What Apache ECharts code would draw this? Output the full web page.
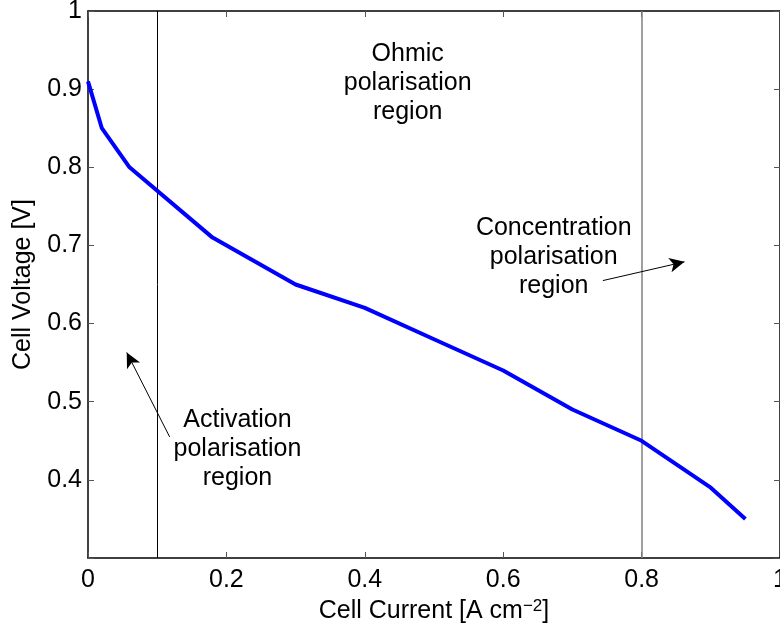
<!DOCTYPE html>
<html>
<head>
<meta charset="utf-8">
<title>Fuel cell polarisation curve</title>
<script src="https://cdn.jsdelivr.net/npm/echarts@6/dist/echarts.min.js"></script>
<style>
  html, body { margin: 0; padding: 0; background: #fff; }
  #chart { width: 780px; height: 630px; }
</style>
</head>
<body>
<div id="chart"></div>
<script>
// Polarisation curve: cell current density [A cm^-2] vs cell voltage [V]
const current = [0, 0.02, 0.06, 0.18, 0.3, 0.4, 0.5, 0.6, 0.7, 0.8, 0.9, 0.95];
const voltage = [0.91, 0.85, 0.80, 0.71, 0.65, 0.62, 0.58, 0.54, 0.49, 0.45, 0.39, 0.35];

// Boundaries between the activation / ohmic / concentration regions
const regionBounds = [0.105, 0.8];

// Region labels (data coordinates of the text centre)
const regionLabels = ['Ohmic\npolarisation\nregion', 'Concentration\npolarisation\nregion', 'Activation\npolarisation\nregion'];
const regionLabelAt = [[0.462, 0.908], [0.673, 0.685], [0.216, 0.439]];

// Arrows from label to region (tail, head) in data coordinates
const arrowTails = [[0.744, 0.655], [0.118, 0.455]];
const arrowHeads = [[0.862, 0.679], [0.056, 0.563]];

const FONT = "'Liberation Sans', Arial, Helvetica, sans-serif";
const FS = 25;

const axisLineStyle = { show: true, onZero: false, lineStyle: { color: '#000', width: 1.5 } };
const tickStyle = { show: true, inside: true, length: 6, lineStyle: { color: '#555', width: 1 } };

const chart = echarts.init(document.getElementById('chart'), null, { renderer: 'canvas' });

chart.setOption({
  animation: false,
  backgroundColor: '#fff',
  grid: { left: 88, right: 0, top: 11, bottom: 72, containLabel: false, outerBoundsMode: 'none' },
  xAxis: [
    {
      type: 'value', min: 0, max: 1, interval: 0.2, position: 'bottom',
      axisLine: axisLineStyle, axisTick: tickStyle, splitLine: { show: false },
      axisLabel: { fontSize: FS, color: '#000', fontFamily: FONT, margin: 10 },
      name: '{a|Cell Current [A cm}{s|−2}{a|]}',
      nameLocation: 'middle', nameGap: 37,
      nameTextStyle: {
        rich: {
          a: { fontSize: FS, color: '#000', fontFamily: FONT, lineHeight: 26 },
          s: { fontSize: 17, color: '#000', fontFamily: FONT, lineHeight: 17, verticalAlign: 'top' }
        }
      }
    },
    {
      type: 'value', min: 0, max: 1, interval: 0.2, position: 'top',
      axisLine: axisLineStyle, axisTick: tickStyle, splitLine: { show: false },
      axisLabel: { show: false }
    }
  ],
  yAxis: [
    {
      type: 'value', min: 0.3, max: 1, interval: 0.1, position: 'left',
      axisLine: axisLineStyle, axisTick: tickStyle, splitLine: { show: false },
      axisLabel: {
        fontSize: FS, color: '#000', fontFamily: FONT, margin: 6,
        formatter: v => (Math.abs(v - 0.3) < 1e-6 ? '' : String(+v.toFixed(1)))
      },
      name: 'Cell Voltage [V]', nameLocation: 'middle', nameGap: 52,
      nameTextStyle: { fontSize: FS, color: '#000', fontFamily: FONT }
    },
    {
      type: 'value', min: 0.3, max: 1, interval: 0.1, position: 'right',
      axisLine: axisLineStyle, axisTick: tickStyle, splitLine: { show: false },
      axisLabel: { show: false }
    }
  ],
  series: [
    {
      type: 'line',
      data: current.map((c, i) => [c, voltage[i]]),
      symbol: 'none',
      lineStyle: { color: '#0000ff', width: 4 },
      z: 5,
      markLine: {
        silent: true,
        symbol: ['none', 'none'],
        label: { show: false },
        data: [
          { xAxis: regionBounds[0], lineStyle: { color: '#000', width: 1, type: 'solid' } },
          { xAxis: regionBounds[1], lineStyle: { color: '#808080', width: 1.5, type: 'solid' } }
        ]
      }
    },
    {
      type: 'line',
      data: [],
      symbol: 'none',
      z: 6,
      markLine: {
        silent: true,
        symbol: ['none', 'arrow'],
        symbolSize: [11, 15],
        label: { show: false },
        lineStyle: { color: '#000', width: 1, type: 'solid' },
        data: arrowTails.map((t, i) => [{ coord: t }, { coord: arrowHeads[i] }])
      },
      markPoint: {
        silent: true,
        symbol: 'circle',
        symbolSize: 0,
        label: {
          show: true, position: 'inside', color: '#000', fontSize: FS,
          lineHeight: 29, fontFamily: FONT, align: 'center', verticalAlign: 'middle'
        },
        data: regionLabels.map((t, i) => ({
          coord: regionLabelAt[i], value: 0,
          label: { formatter: t }
        }))
      }
    }
  ]
});
</script>
</body>
</html>
